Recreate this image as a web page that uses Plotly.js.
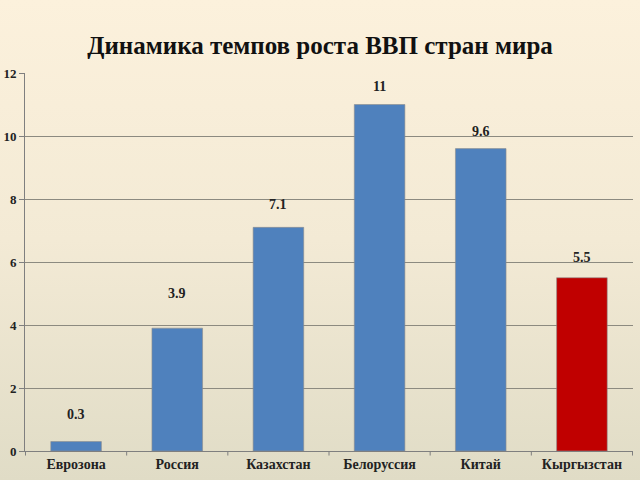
<!DOCTYPE html>
<html><head><meta charset="utf-8">
<script src="https://cdn.plot.ly/plotly-3.0.1.min.js"></script>
<style>
html,body{margin:0;padding:0;}
#chart{width:640px;height:480px;background:linear-gradient(to bottom,#fcf1dc 0%,#f3ead5 50%,#e0dcc6 100%);}
</style></head>
<body><div id="chart"></div>
<script>
const categories = ["Еврозона","Россия","Казахстан","Белоруссия","Китай","Кыргызстан"];
const values = [0.3, 3.9, 7.1, 11, 9.6, 5.5];
const labels = ["0.3","3.9","7.1","11","9.6","5.5"];
const colors = ["#4f81bd","#4f81bd","#4f81bd","#4f81bd","#4f81bd","#c00000"];
const labelShift = [27, 35, 23, 18, 17, 20];

const serif = "Liberation Serif, Times New Roman, serif";
const trace = {
  type: "bar", x: categories, y: values,
  marker: {color: colors, line: {color: "rgba(140,140,140,0.6)", width: 1}},
  width: 0.5, hoverinfo: "none"
};
const annotations = categories.map((c, i) => ({
  x: c, y: values[i], text: "<b>" + labels[i] + "</b>", showarrow: false,
  yshift: labelShift[i], font: {family: serif, size: 14, color: "#222"}
}));
const layout = {
  width: 640, height: 480,
  paper_bgcolor: "rgba(0,0,0,0)", plot_bgcolor: "rgba(0,0,0,0)",
  margin: {l: 25, r: 7, t: 73, b: 29},
  showlegend: false,
  title: {text: "<b>Динамика темпов роста ВВП стран мира</b>", x: 0.5, xanchor: "center",
          y: 1 - 45/480, yanchor: "middle", yref: "container",
          font: {family: serif, size: 25, color: "#111"}},
  xaxis: {showline: true, linecolor: "#7f7f7f", linewidth: 1, ticks: "",
          tickfont: {family: serif, size: 14, color: "#222"},
          tickprefix: "<b>", ticksuffix: "</b>", fixedrange: true},
  yaxis: {range: [0, 12], dtick: 2, showline: true, linecolor: "#7f7f7f", linewidth: 1,
          ticks: "outside", ticklen: 5, tickcolor: "#7f7f7f",
          gridcolor: "#8c8a80", gridwidth: 1, zeroline: false,
          tickfont: {family: serif, size: 13, color: "#222"},
          tickprefix: "<b>", ticksuffix: "</b>", fixedrange: true},
  annotations: annotations,
  shapes: categories.concat(["end"]).map((c, i) => ({
    type: "line", xref: "x", yref: "paper", x0: i - 0.5, x1: i - 0.5, y0: 0, y1: -0.012,
    line: {color: "#7f7f7f", width: 1}
  }))
};
Plotly.newPlot("chart", [trace], layout, {displayModeBar: false, staticPlot: true});
</script></body></html>
